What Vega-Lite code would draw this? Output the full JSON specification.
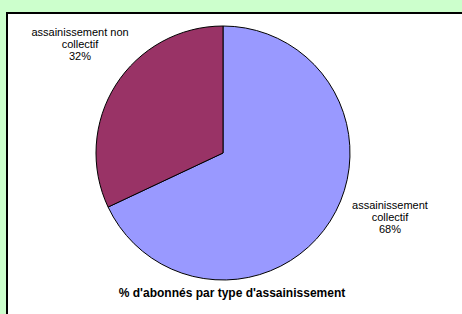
{
  "$schema": "https://vega.github.io/schema/vega-lite/v6.json",
  "autosize": {"type": "none"},
  "padding": {"left": 7, "top": 13, "right": 0, "bottom": 0},
  "width": 456,
  "height": 302,
  "background": "#CCFFCC",
  "view": {"fill": "white", "stroke": "black", "strokeWidth": 2},
  "config": {
    "font": "Liberation Sans"
  },
  "title": {
    "text": "% d'abonnés par type d'assainissement",
    "orient": "bottom",
    "anchor": "middle",
    "offset": -27,
    "dx": -3,
    "fontSize": 12,
    "fontWeight": "bold",
    "font": "Liberation Sans",
    "color": "black"
  },
  "data": {
    "values": [
      {"type": "assainissement collectif", "pct": 68},
      {"type": "assainissement non collectif", "pct": 32}
    ]
  },
  "transform": [
    {"window": [{"op": "sum", "field": "pct", "as": "cum"}], "sort": [{"field": "type", "order": "ascending"}], "frame": [null, 0]},
    {"calculate": "datum.cum - datum.pct / 2", "as": "mid"},
    {"calculate": "(datum.type === 'assainissement collectif' ? 'assainissement\\ncollectif' : 'assainissement non\\ncollectif') + '\\n' + datum.pct + '%'", "as": "label"}
  ],
  "layer": [
    {
      "mark": {"type": "arc", "radius": 127, "stroke": "black", "strokeWidth": 1, "xOffset": -12, "yOffset": -11},
      "encoding": {
        "theta": {"field": "pct", "type": "quantitative", "stack": true, "scale": {"domain": [0, 100]}},
        "color": {"field": "type", "type": "nominal", "sort": "ascending", "scale": {"domain": ["assainissement collectif", "assainissement non collectif"], "range": ["#9999FF", "#993366"]}, "legend": null},
        "order": {"field": "type", "sort": "ascending"}
      }
    },
    {
      "transform": [{"filter": "datum.type === 'assainissement non collectif'"}],
      "mark": {"type": "text", "radius": 180, "lineBreak": "\n", "fontSize": 11, "lineHeight": 12, "align": "center", "baseline": "middle", "color": "black", "xOffset": -12, "yOffset": -11, "dx": 9, "dy": -24},
      "encoding": {
        "theta": {"field": "mid", "type": "quantitative", "scale": {"domain": [0, 100]}},
        "text": {"field": "label", "type": "nominal"}
      }
    },
    {
      "transform": [{"filter": "datum.type === 'assainissement collectif'"}],
      "mark": {"type": "text", "radius": 180, "lineBreak": "\n", "fontSize": 11, "lineHeight": 12, "align": "center", "baseline": "middle", "color": "black", "xOffset": -12, "yOffset": -11, "dx": 15, "dy": -43},
      "encoding": {
        "theta": {"field": "mid", "type": "quantitative", "scale": {"domain": [0, 100]}},
        "text": {"field": "label", "type": "nominal"}
      }
    }
  ]
}
